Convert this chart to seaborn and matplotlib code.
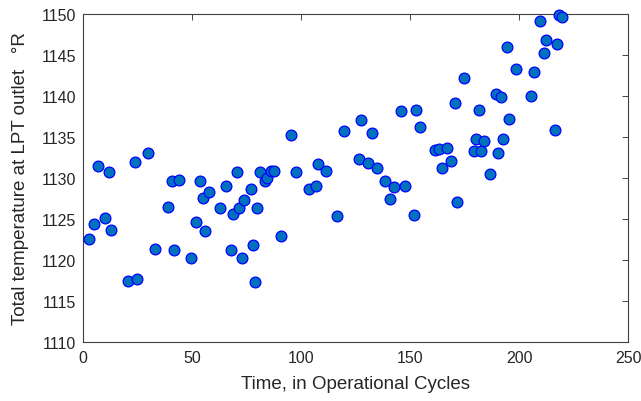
import matplotlib
matplotlib.use("Agg")
import matplotlib.pyplot as plt
import seaborn as sns
import pandas as pd

cycles = [2.9, 5.0, 6.9, 10.0, 11.8, 13.0, 20.6, 24.8, 23.7, 29.8, 32.9, 39.0, 40.7, 41.7,
          44.0, 49.7, 51.8, 53.8, 54.8, 55.8, 57.8, 62.8, 65.8, 67.8, 68.8, 70.6, 71.7,
          72.9, 74.0, 76.9, 78.0, 78.8, 79.7, 81.2, 83.6, 84.6, 86.1, 87.6,
          95.6, 90.7, 97.6, 103.7, 106.7, 107.8, 111.6, 116.7, 119.6, 126.6, 127.7,
          130.7, 132.6, 134.7, 138.7, 140.6, 142.7, 145.6, 147.6, 151.6, 152.6, 154.6,
          161.3, 163.3, 166.7, 164.7, 168.7, 170.5, 171.6, 174.8,
          179.5, 180.4, 181.7, 182.6, 183.7, 186.6, 189.3, 190.5, 191.6, 192.5, 194.5,
          195.4, 198.6, 205.5, 206.6, 209.5, 211.5, 212.4, 216.4, 217.4, 218.4, 219.6]
temps = [1122.5, 1124.4, 1131.5, 1125.1, 1130.7, 1123.6, 1117.4, 1117.7, 1132.0, 1133.1,
         1121.4, 1126.5, 1129.6, 1121.2, 1129.7, 1120.2, 1124.6, 1129.6, 1127.6, 1123.5,
         1128.3, 1126.3, 1129.0, 1121.2, 1125.6, 1130.7, 1126.3, 1120.3, 1127.3, 1128.7,
         1121.8, 1117.3, 1126.3, 1130.7, 1129.6, 1130.0, 1130.9, 1130.8,
         1135.3, 1122.9, 1130.7, 1128.6, 1129.0, 1131.7, 1130.9, 1125.4, 1135.7, 1132.3,
         1137.1, 1131.8, 1135.5, 1131.2, 1129.6, 1127.4, 1128.9, 1138.2, 1129.0, 1125.5,
         1138.3, 1136.2, 1133.4, 1133.5, 1133.6, 1131.2, 1132.1, 1139.1, 1127.1, 1142.2,
         1133.3, 1134.7, 1138.3, 1133.3, 1134.5, 1130.5, 1140.2, 1133.1, 1139.9, 1134.8,
         1146.0, 1137.2, 1143.3, 1140.0, 1142.9, 1149.1, 1145.3, 1146.8, 1135.9, 1146.4,
         1149.9, 1149.6]

x_ticks = [0, 50, 100, 150, 200, 250]
y_ticks = [1110, 1115, 1120, 1125, 1130, 1135, 1140, 1145, 1150]

df = pd.DataFrame({"cycle": cycles, "temp": temps})

sns.set_style("white")
plt.rcParams['font.family'] = ['Liberation Sans', 'DejaVu Sans']

fig = plt.figure(figsize=(6.41, 4.02), dpi=100)
ax = fig.add_axes([0.1295, 0.1468, 0.8505, 0.8159])
sns.scatterplot(data=df, x="cycle", y="temp", ax=ax, s=60,
                color="#0072BD", edgecolor="#0000FF", linewidth=0.9, zorder=3,
                clip_on=False)

ax.set_xlim(0, 250)
ax.set_ylim(1110, 1150)
ax.set_xticks(x_ticks)
ax.set_yticks(y_ticks)
ax.tick_params(direction="in", length=4, width=0.6, colors="#262626",
               labelsize=11.5, top=True, right=True, labeltop=False, labelright=False)
ax.tick_params(axis="x", pad=6)
ax.tick_params(axis="y", pad=5)
for sp in ax.spines.values():
    sp.set_color("#404040")
    sp.set_linewidth(0.8)
ax.set_xlabel("Time, in Operational Cycles", fontsize=13.5, color="#262626", labelpad=7)
ax.set_ylabel("Total temperature at LPT outlet   °R", fontsize=13.5, color="#262626", labelpad=9)

fig.savefig("out.png", dpi=100)
